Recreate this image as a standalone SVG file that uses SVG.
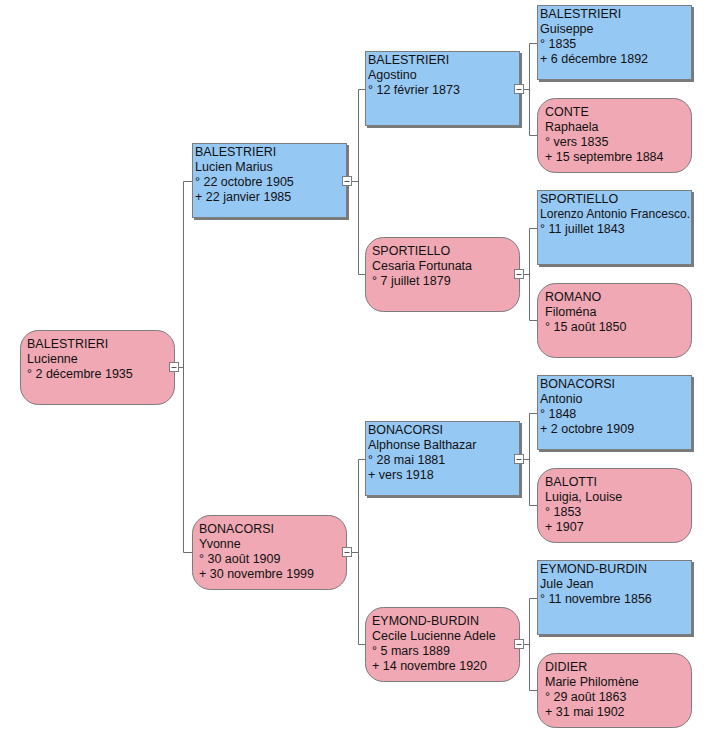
<svg xmlns="http://www.w3.org/2000/svg" width="715" height="745" viewBox="0 0 715 745">
<style>
  text { font-family: "Liberation Sans", Arial, sans-serif; font-size: 12.5px; fill: #111; }
  .m { fill: #f0a8b4; stroke: #7c7c7c; stroke-width: 1; }
  .f { fill: #96c8f4; stroke: #7c7c7c; stroke-width: 1; }
  .sh { fill: #7a7a7a; }
  .c { fill: none; stroke: #6e6e6e; stroke-width: 1; }
  .box { fill: #ffffff; stroke: #7c7c7c; stroke-width: 1; }
  .minus { stroke: #555; stroke-width: 1; }
</style>
<rect width="715" height="745" fill="#ffffff"/>
<g id="connectors">
  <path class="c" d="M179 367.5H183.5M183.5 181.5V552.5M183.5 181.5H192M183.5 552.5H192"/>
  <path class="c" d="M352 181.5H358.5M358.5 89.5V274.5M358.5 89.5H365M358.5 274.5H365"/>
  <path class="c" d="M352 552.5H358.5M358.5 459.5V644.5M358.5 459.5H365M358.5 644.5H365"/>
  <path class="c" d="M524 89.5H529.5M529.5 43.5V135.5M529.5 43.5H537M529.5 135.5H537"/>
  <path class="c" d="M524 274.5H529.5M529.5 228.5V320.5M529.5 228.5H537M529.5 320.5H537"/>
  <path class="c" d="M524 459.5H529.5M529.5 413.5V505.5M529.5 413.5H537M529.5 505.5H537"/>
  <path class="c" d="M524 644.5H529.5M529.5 598.5V690.5M529.5 598.5H537M529.5 690.5H537"/>
</g>
<g id="n-lucienne">
  <rect class="m" x="20.5" y="330.5" width="154" height="74" rx="18"/>
  <text x="27" y="348">BALESTRIERI</text><text x="27" y="363">Lucienne</text><text x="27" y="378">° 2 décembre 1935</text>
  <rect class="box" x="169.5" y="362.5" width="9" height="9"/><path class="minus" d="M171.5 367.5H176.5"/>
</g>
<g id="n-lucien">
  <rect class="sh" x="194" y="145" width="155" height="75"/>
  <rect class="f" x="192.5" y="143.5" width="154" height="74"/>
  <text x="195" y="156">BALESTRIERI</text><text x="195" y="171">Lucien Marius</text><text x="195" y="186">° 22 octobre 1905</text><text x="195" y="201">+ 22 janvier 1985</text>
  <rect class="box" x="342.5" y="176.5" width="9" height="9"/><path class="minus" d="M344.5 181.5H349.5"/>
</g>
<g id="n-yvonne">
  <rect class="m" x="192.5" y="515.5" width="154" height="74" rx="18"/>
  <text x="199" y="533">BONACORSI</text><text x="199" y="548">Yvonne</text><text x="199" y="563">° 30 août 1909</text><text x="199" y="578">+ 30 novembre 1999</text>
  <rect class="box" x="342.5" y="547.5" width="9" height="9"/><path class="minus" d="M344.5 552.5H349.5"/>
</g>
<g id="n-agostino">
  <rect class="sh" x="367" y="53" width="155" height="75"/>
  <rect class="f" x="365.5" y="51.5" width="154" height="74"/>
  <text x="368" y="64">BALESTRIERI</text><text x="368" y="79">Agostino</text><text x="368" y="94">° 12 février 1873</text>
  <rect class="box" x="514.5" y="84.5" width="9" height="9"/><path class="minus" d="M516.5 89.5H521.5"/>
</g>
<g id="n-cesaria">
  <rect class="m" x="365.5" y="237.5" width="154" height="74" rx="18"/>
  <text x="372" y="255">SPORTIELLO</text><text x="372" y="270">Cesaria Fortunata</text><text x="372" y="285">° 7 juillet 1879</text>
  <rect class="box" x="514.5" y="269.5" width="9" height="9"/><path class="minus" d="M516.5 274.5H521.5"/>
</g>
<g id="n-alphonse">
  <rect class="sh" x="367" y="423" width="155" height="75"/>
  <rect class="f" x="365.5" y="421.5" width="154" height="74"/>
  <text x="368" y="434">BONACORSI</text><text x="368" y="449">Alphonse Balthazar</text><text x="368" y="464">° 28 mai 1881</text><text x="368" y="479">+ vers 1918</text>
  <rect class="box" x="514.5" y="454.5" width="9" height="9"/><path class="minus" d="M516.5 459.5H521.5"/>
</g>
<g id="n-cecile">
  <rect class="m" x="365.5" y="607.5" width="154" height="74" rx="18"/>
  <text x="372" y="625">EYMOND-BURDIN</text><text x="372" y="640">Cecile Lucienne Adele</text><text x="372" y="655">° 5 mars 1889</text><text x="372" y="670">+ 14 novembre 1920</text>
  <rect class="box" x="514.5" y="639.5" width="9" height="9"/><path class="minus" d="M516.5 644.5H521.5"/>
</g>
<g id="n-guiseppe">
  <rect class="sh" x="539" y="7" width="155" height="75"/>
  <rect class="f" x="537.5" y="5.5" width="154" height="74"/>
  <text x="540" y="18">BALESTRIERI</text><text x="540" y="33">Guiseppe</text><text x="540" y="48">° 1835</text><text x="540" y="63">+ 6 décembre 1892</text>
</g>
<g id="n-conte">
  <rect class="m" x="537.5" y="98.5" width="154" height="74" rx="18"/>
  <text x="545" y="116">CONTE</text><text x="545" y="131">Raphaela</text><text x="545" y="146">° vers 1835</text><text x="545" y="161">+ 15 septembre 1884</text>
</g>
<g id="n-lorenzo">
  <rect class="sh" x="539" y="192" width="155" height="75"/>
  <rect class="f" x="537.5" y="190.5" width="154" height="74"/>
  <text x="540" y="203">SPORTIELLO</text><text x="540" y="218" textLength="150" lengthAdjust="spacingAndGlyphs">Lorenzo Antonio Francesco.</text><text x="540" y="233">° 11 juillet 1843</text>
</g>
<g id="n-romano">
  <rect class="m" x="537.5" y="283.5" width="154" height="74" rx="18"/>
  <text x="545" y="301">ROMANO</text><text x="545" y="316">Filoména</text><text x="545" y="331">° 15 août 1850</text>
</g>
<g id="n-antonio">
  <rect class="sh" x="539" y="377" width="155" height="75"/>
  <rect class="f" x="537.5" y="375.5" width="154" height="74"/>
  <text x="540" y="388">BONACORSI</text><text x="540" y="403">Antonio</text><text x="540" y="418">° 1848</text><text x="540" y="433">+ 2 octobre 1909</text>
</g>
<g id="n-balotti">
  <rect class="m" x="537.5" y="468.5" width="154" height="74" rx="18"/>
  <text x="545" y="486">BALOTTI</text><text x="545" y="501">Luigia, Louise</text><text x="545" y="516">° 1853</text><text x="545" y="531">+ 1907</text>
</g>
<g id="n-jule">
  <rect class="sh" x="539" y="562" width="155" height="75"/>
  <rect class="f" x="537.5" y="560.5" width="154" height="74"/>
  <text x="540" y="573">EYMOND-BURDIN</text><text x="540" y="588">Jule Jean</text><text x="540" y="603">° 11 novembre 1856</text>
</g>
<g id="n-didier">
  <rect class="m" x="537.5" y="653.5" width="154" height="74" rx="18"/>
  <text x="545" y="671">DIDIER</text><text x="545" y="686">Marie Philomène</text><text x="545" y="701">° 29 août 1863</text><text x="545" y="716">+ 31 mai 1902</text>
</g>
</svg>
